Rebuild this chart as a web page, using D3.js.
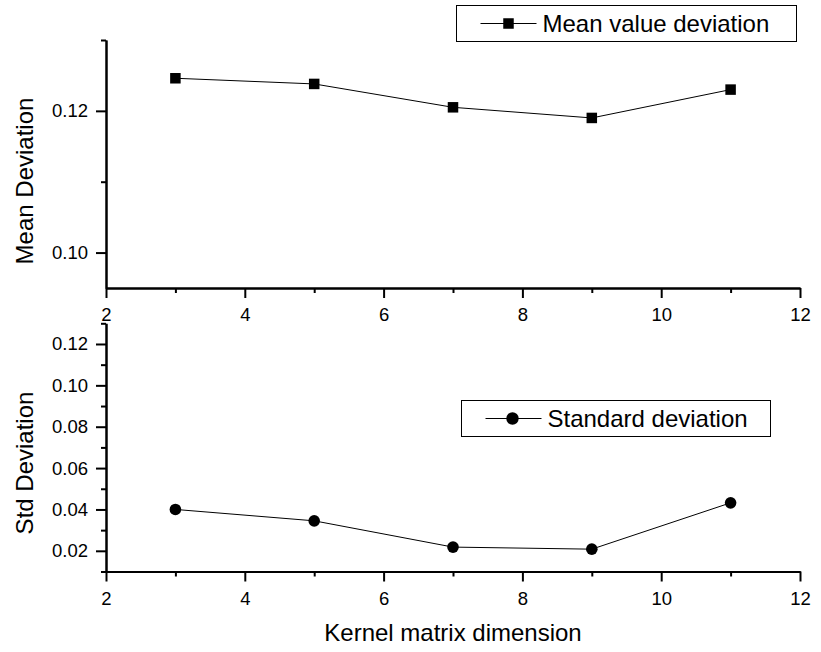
<!DOCTYPE html>
<html>
<head>
<meta charset="utf-8">
<script src="https://cdn.jsdelivr.net/npm/d3@7"></script>
<style>
  body { margin: 0; background: white; }
  svg { display: block; font-family: Arial, "Liberation Sans", sans-serif; }
  .axis path, .axis line { stroke: black; stroke-width: 2px; fill: none; }
  .axis text { font-size: 18.5px; fill: black; }
  .series { fill: none; stroke: black; stroke-width: 1px; }
  .legend rect.box { fill: white; stroke: black; stroke-width: 1px; }
  .title { font-size: 24px; fill: black; }
</style>
</head>
<body>
<svg id="chart" width="821" height="652"></svg>
<script>
// data
var kernelSize = [3, 5, 7, 9, 11];
var meanDeviation = [0.1246, 0.1238, 0.1205, 0.1190, 0.1230];
var stdDeviation = [0.0400, 0.0345, 0.0218, 0.0208, 0.0432];

var xTicks = [2, 4, 6, 8, 10, 12];
var xMinor = [3, 5, 7, 9, 11];
var meanTicks = [0.10, 0.12];
var meanMinor = [0.11, 0.13];
var stdTicks = [0.02, 0.04, 0.06, 0.08, 0.10, 0.12];
var stdMinor = [0.01, 0.03, 0.05, 0.07, 0.09, 0.11, 0.13];

var svg = d3.select("#chart");

var x = d3.scaleLinear().domain([2, 12]).range([106, 800]);

// one panel = x axis, y axis, line, markers
function drawPanel(cfg) {
  var y = d3.scaleLinear().domain(cfg.domain).range([cfg.bottom, cfg.top]);
  var g = svg.append("g");

  // minor ticks first, so major ones paint on top
  g.append("g").attr("class", "axis")
    .attr("transform", "translate(0," + cfg.bottom + ")")
    .call(d3.axisBottom(x).tickValues(xMinor).tickSize(5).tickSizeOuter(0).tickFormat(""));
  g.append("g").attr("class", "axis")
    .attr("transform", "translate(106,0)")
    .call(d3.axisLeft(y).tickValues(cfg.minor).tickSize(5).tickSizeOuter(0).tickFormat(""));

  g.append("g").attr("class", "axis")
    .attr("transform", "translate(0," + cfg.bottom + ")")
    .call(d3.axisBottom(x).tickValues(xTicks).tickSize(10).tickSizeOuter(0).tickPadding(10)
      .tickFormat(d3.format("d")));
  g.append("g").attr("class", "axis")
    .attr("transform", "translate(106,0)")
    .call(d3.axisLeft(y).tickValues(cfg.ticks).tickSize(10).tickSizeOuter(0).tickPadding(8)
      .tickFormat(d3.format(".2f")));

  var pts = kernelSize.map(function(k, i) { return [k, cfg.values[i]]; });
  var line = d3.line().x(function(d) { return x(d[0]); }).y(function(d) { return y(d[1]); });

  g.append("path").attr("class", "series").attr("d", line(pts));

  if (cfg.marker == "square") {
    g.selectAll("rect.pt").data(pts).enter().append("rect")
      .attr("class", "pt")
      .attr("x", function(d) { return x(d[0]) - 5.25; })
      .attr("y", function(d) { return y(d[1]) - 5.25; })
      .attr("width", 10.5).attr("height", 10.5)
      .attr("fill", "black");
  } else {
    g.selectAll("circle.pt").data(pts).enter().append("circle")
      .attr("class", "pt")
      .attr("cx", function(d) { return x(d[0]); })
      .attr("cy", function(d) { return y(d[1]); })
      .attr("r", 5.8)
      .attr("fill", "black");
  }

  // y title
  g.append("text").attr("class", "title")
    .attr("transform", "translate(33," + cfg.titleY + ") rotate(-90)")
    .attr("text-anchor", "middle")
    .text(cfg.title);

  // legend
  var lg = g.append("g").attr("class", "legend");
  var L = cfg.legend;
  lg.append("rect").attr("class", "box")
    .attr("x", L.x).attr("y", L.y).attr("width", L.w).attr("height", L.h);
  var cy = L.y + L.h / 2;
  lg.append("line").attr("x1", L.x + 24).attr("x2", L.x + 80)
    .attr("y1", cy).attr("y2", cy).attr("stroke", "black").attr("stroke-width", 1);
  if (cfg.marker == "square") {
    lg.append("rect").attr("x", L.x + 52 - 5.25).attr("y", cy - 5.25)
      .attr("width", 10.5).attr("height", 10.5).attr("fill", "black");
  } else {
    lg.append("circle").attr("cx", L.x + 51).attr("cy", cy).attr("r", 6.2).attr("fill", "black");
  }
  lg.append("text").attr("class", "title")
    .attr("x", L.x + 86).attr("y", cy + 8.5)
    .text(L.label);
}

drawPanel({
  domain: [0.095, 0.13], top: 40, bottom: 288,
  ticks: meanTicks, minor: meanMinor, values: meanDeviation,
  marker: "square", title: "Mean Deviation", titleY: 181,
  legend: { x: 456.5, y: 5.5, w: 340, h: 36, label: "Mean value deviation" }
});

drawPanel({
  domain: [0.01, 0.13], top: 323.3, bottom: 571.5,
  ticks: stdTicks, minor: stdMinor, values: stdDeviation,
  marker: "circle", title: "Std Deviation", titleY: 463,
  legend: { x: 461.5, y: 400.5, w: 309, h: 36, label: "Standard deviation" }
});

svg.append("text").attr("class", "title")
  .attr("x", 453).attr("y", 641)
  .attr("text-anchor", "middle")
  .text("Kernel matrix dimension");
</script>
</body>
</html>
